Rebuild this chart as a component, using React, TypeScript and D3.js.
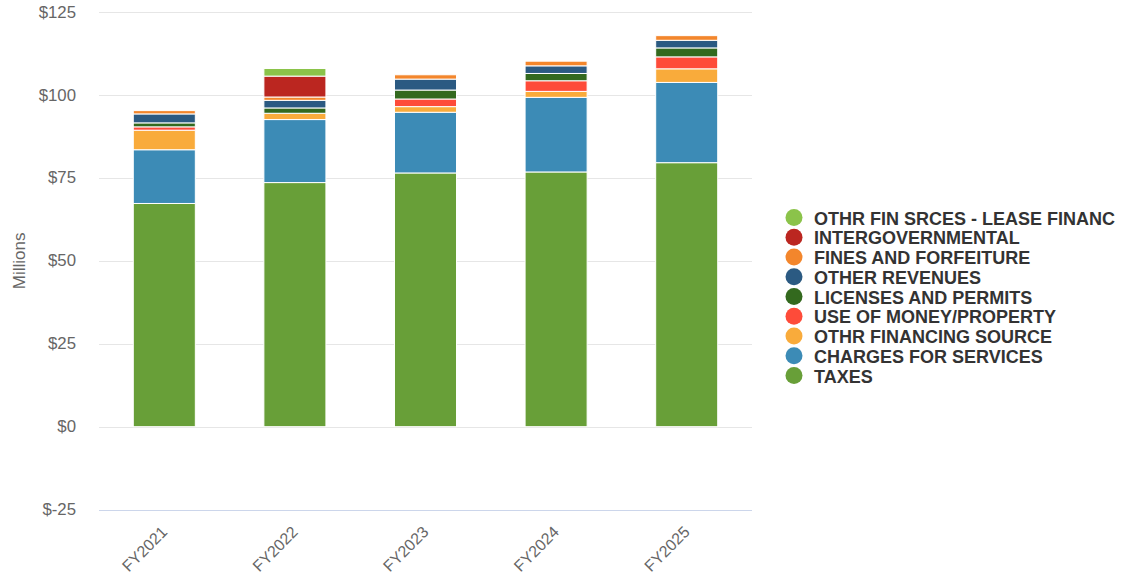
import React from "react";
import * as d3 from "d3";

const categories = ["FY2021", "FY2022", "FY2023", "FY2024", "FY2025"];

// series in stacking order (bottom to top)
const taxes = [67.3, 73.6, 76.5, 76.8, 79.6];
const chargesForServices = [16.2, 19.0, 18.3, 22.5, 24.2];
const othrFinancingSource = [5.9, 1.9, 1.7, 1.8, 4.1];
const useOfMoneyProperty = [1.0, 0, 2.3, 3.2, 3.6];
const licensesAndPermits = [1.2, 1.6, 2.7, 2.2, 2.7];
const otherRevenues = [2.7, 2.3, 3.3, 2.3, 2.3];
const finesAndForfeiture = [1.0, 1.0, 1.3, 1.4, 1.4];
const intergovernmental = [0, 6.3, 0, 0, 0];
const leaseFinanc = [0, 2.3, 0, 0, 0];

const seriesNames = [
  "TAXES",
  "CHARGES FOR SERVICES",
  "OTHR FINANCING SOURCE",
  "USE OF MONEY/PROPERTY",
  "LICENSES AND PERMITS",
  "OTHER REVENUES",
  "FINES AND FORFEITURE",
  "INTERGOVERNMENTAL",
  "OTHR FIN SRCES - LEASE FINANC",
];
const seriesValues = [
  taxes,
  chargesForServices,
  othrFinancingSource,
  useOfMoneyProperty,
  licensesAndPermits,
  otherRevenues,
  finesAndForfeiture,
  intergovernmental,
  leaseFinanc,
];
const seriesColors = [
  "#689f38",
  "#3c8bb6",
  "#f9ab3b",
  "#fe4b39",
  "#33691e",
  "#2b5a82",
  "#f3862c",
  "#bb2620",
  "#8bc34a",
];

const yTicks = [-25, 0, 25, 50, 75, 100, 125];

const FONT = "'Liberation Sans', Arial, Helvetica, sans-serif";

export default function App() {
  const W = 1125;
  const H = 581;
  const plotLeft = 99;
  const plotRight = 752;

  const x = d3
    .scaleBand<string>()
    .domain(categories)
    .range([plotLeft, plotRight])
    .paddingInner(0.525)
    .paddingOuter(0.2625);

  const y = d3.scaleLinear().domain([-25, 125]).range([509.6, 12.1]);

  const table = categories.map((c, i) => {
    const row: Record<string, any> = { cat: c };
    seriesNames.forEach((n, j) => (row[n] = seriesValues[j][i]));
    return row;
  });
  const stacked = d3.stack<any>().keys(seriesNames)(table);

  const legendX = 794;
  const legendY0 = 217.5;
  const legendStep = 19.75;
  const legendOrder = [...seriesNames.keys()].reverse();

  return (
    <svg
      width={W}
      height={H}
      style={{ position: "absolute", left: 0, top: 0, background: "#fff" }}
      fontFamily={FONT}
    >
      {/* grid lines */}
      {yTicks.map((t) => (
        <line
          key={"g" + t}
          x1={plotLeft}
          x2={plotRight}
          y1={Math.round(y(t)) + 0.5}
          y2={Math.round(y(t)) + 0.5}
          stroke={t === -25 ? "#ccd6eb" : "#e6e6e6"}
          strokeWidth={1}
        />
      ))}
      {/* y labels */}
      {yTicks.map((t) => (
        <text
          key={"yl" + t}
          x={76}
          y={y(t) + 5.5}
          textAnchor="end"
          fontSize={16.8}
          fill="#666666"
        >
          {"$" + t}
        </text>
      ))}
      <text
        transform={`translate(25, ${y(50)}) rotate(-90)`}
        textAnchor="middle"
        fontSize={17}
        fill="#666666"
      >
        Millions
      </text>
      {/* bars */}
      {stacked.map((layer, j) => (
        <g key={"s" + j} fill={seriesColors[j]}>
          {layer.map((d, i) => {
            const h = y(d[0]) - y(d[1]);
            if (h <= 0) return null;
            return (
              <rect
                key={i}
                x={x(categories[i])}
                y={y(d[1])}
                width={x.bandwidth()}
                height={h}
                stroke="#ffffff"
                strokeWidth={1}
              />
            );
          })}
        </g>
      ))}
      {/* x labels */}
      {categories.map((c) => {
        const cx = (x(c) as number) + x.bandwidth() / 2;
        return (
          <text
            key={"xl" + c}
            transform={`translate(${cx + 4}, 533) rotate(-45)`}
            textAnchor="end"
            fontSize={16}
            fill="#666666"
          >
            {c}
          </text>
        );
      })}
      {/* legend */}
      {legendOrder.map((j, k) => (
        <g key={"lg" + j} transform={`translate(${legendX}, ${legendY0 + k * legendStep})`}>
          <circle cx={0} cy={0} r={8.5} fill={seriesColors[j]} />
          <text x={20} y={7} fontSize={18} fontWeight="bold" fill="#333333">
            {seriesNames[j]}
          </text>
        </g>
      ))}
    </svg>
  );
}
